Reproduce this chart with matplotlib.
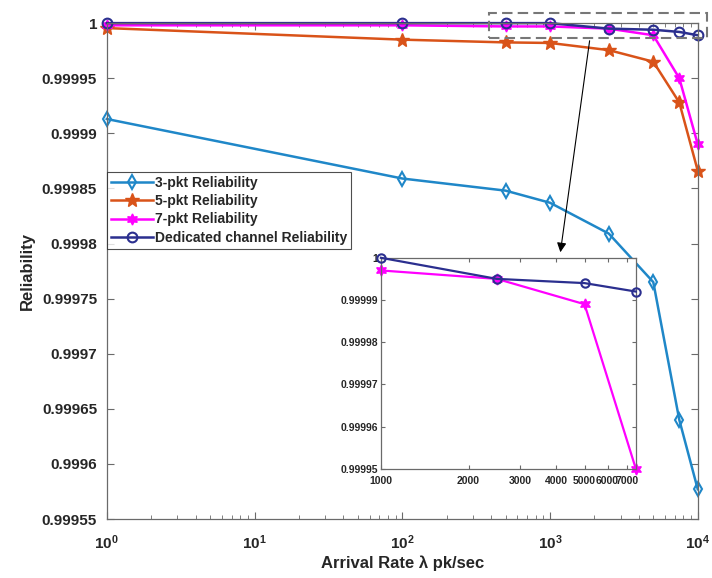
import numpy as np
import matplotlib.pyplot as plt
from matplotlib.ticker import FuncFormatter, FixedLocator, LogLocator, NullFormatter, NullLocator
from matplotlib.patches import Rectangle

plt.rcParams['font.family'] = ['Liberation Sans', 'DejaVu Sans']
plt.rcParams['font.weight'] = 'bold'
plt.rcParams['mathtext.fontset'] = 'custom'
plt.rcParams['mathtext.default'] = 'rm'
plt.rcParams['mathtext.rm'] = 'Liberation Sans:bold'

# data
rate = [1, 100, 500, 1000, 2500, 5000, 7500, 10000]
rel_3pkt = [0.999913, 0.999859, 0.999848, 0.999837, 0.999809, 0.999765, 0.999640, 0.999577]
rel_5pkt = [0.9999955, 0.999985, 0.9999825, 0.999982, 0.9999755, 0.999965, 0.999928, 0.999866]
rel_7pkt = [0.999998, 0.999998, 0.999997, 0.999997, 0.999995, 0.999989, 0.99995, 0.99989]
rel_ded = [1.0, 1.0, 1.0, 1.0, 0.999995, 0.999994, 0.999992, 0.999989]

labels = ['3-pkt Reliability', '5-pkt Reliability', '7-pkt Reliability',
          'Dedicated channel Reliability']
yticks = [0.99955, 0.9996, 0.99965, 0.9997, 0.99975, 0.9998, 0.99985, 0.9999, 0.99995, 1.0]
inset_yticks = [0.99995, 0.99996, 0.99997, 0.99998, 0.99999, 1.0]
inset_xticks = [1000, 2000, 3000, 4000, 5000, 6000, 7000]

c3, c5, c7, cd = '#1f87c8', '#d95319', '#ff00ff', '#2b2f8f'
txt = '#262626'
spine = '#6a6a6a'


def yfmt(v, pos):
    s = f'{round(v, 6):.5f}'.rstrip('0').rstrip('.')
    return s


fig = plt.figure(figsize=(7.12, 5.78), dpi=100)
ax = fig.add_axes([0.150, 0.102, 0.830, 0.858])

ax.plot(rate, rel_3pkt, color=c3, lw=1.8, marker='d', ms=7, mfc='none', mew=1.5,
        label=labels[0], clip_on=False)
ax.plot(rate, rel_5pkt, color=c5, lw=1.8, marker='*', ms=10, label=labels[1], clip_on=False)
ax.plot(rate, rel_7pkt, color=c7, lw=1.8, marker=(6, 1, 0), ms=8, label=labels[2], clip_on=False)
ax.plot(rate, rel_ded, color=cd, lw=1.8, marker='o', ms=7, mfc='none', mew=1.5,
        label=labels[3], clip_on=False)

ax.set_xscale('log')
ax.set_xlim(1, 1e4)
ax.set_ylim(0.99955, 1.0)
ax.xaxis.set_major_locator(LogLocator(base=10, numticks=10))
ax.xaxis.set_minor_locator(LogLocator(base=10, subs=np.arange(2, 10), numticks=10))
ax.xaxis.set_minor_formatter(NullFormatter())
ax.xaxis.set_major_formatter(FuncFormatter(lambda v, p: r'$10^{%d}$' % round(np.log10(v))))
ax.yaxis.set_major_locator(FixedLocator(yticks))
ax.yaxis.set_major_formatter(FuncFormatter(yfmt))
ax.tick_params(which='both', direction='in', top=True, right=True, colors=spine,
               labelcolor=txt, labelsize=11)
ax.tick_params(which='major', length=5)
ax.tick_params(which='minor', length=3)
ax.tick_params(axis='x', which='major', pad=10)
ax.tick_params(axis='y', which='major', pad=7)
for s in ax.spines.values():
    s.set_color(spine)
    s.set_linewidth(0.9)

ax.set_xlabel('Arrival Rate λ pk/sec', fontsize=12, fontweight='bold', color=txt, labelpad=3)
ax.set_ylabel('Reliability', fontsize=12, fontweight='bold', color=txt, labelpad=5)

leg = ax.legend(loc='upper left', bbox_to_anchor=(0.0, 0.70), fontsize=10, frameon=True,
                fancybox=False, edgecolor='#222222', handlelength=3.0, handletextpad=0.15,
                labelspacing=0.3, borderpad=0.3, borderaxespad=0.0)
leg.get_frame().set_linewidth(0.8)
for t in leg.get_texts():
    t.set_fontweight('bold')
    t.set_color(txt)

# zoom box on the top-right part
fig.add_artist(Rectangle((0.687, 0.935), 0.306, 0.043, transform=fig.transFigure,
                         fill=False, ls=(0, (5, 2.5)), ec='#777777', lw=1.5))

# inset
axi = fig.add_axes([0.535, 0.189, 0.358, 0.365])
axi.plot(rate[3:7], rel_ded[3:7], color=cd, lw=1.6, marker='o', ms=6, mfc='none', mew=1.5,
         clip_on=False, zorder=3)
axi.plot(rate[3:7], rel_7pkt[3:7], color=c7, lw=1.6, marker=(6, 1, 0), ms=8,
         clip_on=False, zorder=2)
axi.set_xscale('log')
axi.set_xlim(1000, 7500)
axi.set_ylim(0.99995, 1.0)
axi.xaxis.set_major_locator(FixedLocator(inset_xticks))
axi.xaxis.set_major_formatter(FuncFormatter(lambda v, p: '%d' % v))
axi.xaxis.set_minor_locator(NullLocator())
axi.xaxis.set_minor_formatter(NullFormatter())
axi.yaxis.set_major_locator(FixedLocator(inset_yticks))
axi.yaxis.set_major_formatter(FuncFormatter(yfmt))
axi.tick_params(which='both', direction='in', top=True, right=True, colors=spine,
                labelcolor=txt, labelsize=7.5, length=3, pad=2)
axi.tick_params(axis='x', pad=5)
for s in axi.spines.values():
    s.set_color(spine)
    s.set_linewidth(0.9)

axi.annotate('', xy=(560 / 712, 1 - 255 / 578), xycoords='figure fraction',
             xytext=(590 / 712, 1 - 38 / 578), textcoords='figure fraction',
             arrowprops=dict(arrowstyle='-|>', color='k', lw=0.8, mutation_scale=14),
             annotation_clip=False)

fig.savefig('out.png', dpi=100)
